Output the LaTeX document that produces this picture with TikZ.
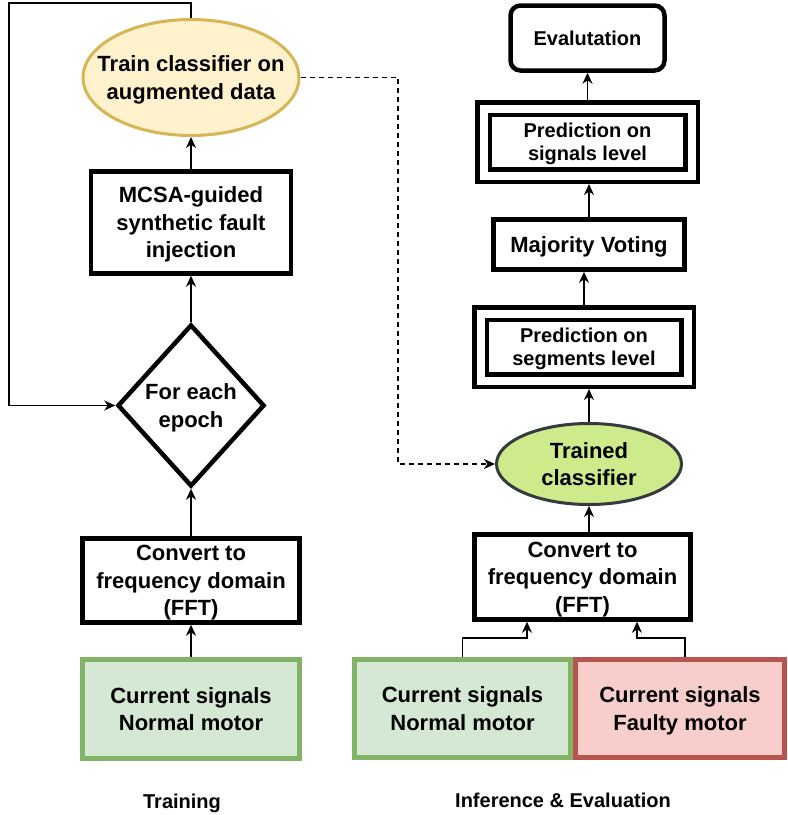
\documentclass[tikz,border=0pt]{standalone}
\usepackage{fontspec}
\setmainfont{Liberation Sans}
\usetikzlibrary{shapes.geometric,arrows.meta}

% colours of the filled shapes
\definecolor{yellowfill}{HTML}{FFF2CC}
\definecolor{yellowline}{HTML}{D6B656}
\definecolor{greenfill}{HTML}{D5E8D4}
\definecolor{greenline}{HTML}{82B366}
\definecolor{redfill}{HTML}{F8CECC}
\definecolor{redline}{HTML}{B85450}
\definecolor{limefill}{HTML}{CDEB8B}
\definecolor{limeline}{HTML}{36393D}

\begin{document}
\begin{tikzpicture}[x=1pt,y=-1pt,
    every node/.style={font=\bfseries\fontsize{22}{27.5}\selectfont,
                       align=center, inner sep=0pt, text depth=0pt},
    smalltext/.style={font=\bfseries\fontsize{20}{23}\selectfont},
    box/.style={draw, rectangle, line width=4.5pt, fill=white},
    dblbox/.style={draw, rectangle, line width=4.5pt, double, double distance=8pt,
                   outer sep=8.5pt, smalltext},
    loopbox/.style={draw, diamond, line width=4.5pt, fill=white},
    blob/.style={draw, ellipse, line width=3pt},
    signal/.style={draw, rectangle, line width=4.5pt},
    arrow/.style={-{Stealth[length=11pt,width=10pt,inset=3.5pt]}, line width=1.5pt}]

  \useasboundingbox (0,0) rectangle (788,815);

  % --------------------------
  % training column (left)
  % --------------------------
  % the text is set apart so that it may run close to the ellipse
  \node[blob, fill=yellowfill, draw=yellowline, minimum width=216, minimum height=116]
    (trainE) at (191,77.5) {};
  \node (trainTxt) at (trainE) {Train classifier on\\augmented data};
  \node[box, minimum width=200, minimum height=102]
    (mcsa) at (191,222.5) {MCSA-guided\\synthetic fault\\injection};
  \node[loopbox, minimum width=147, minimum height=162]
    (epoch) at (191,405.5) {For each\\epoch};
  \node[box, minimum width=217, minimum height=84]
    (fftL) at (191,580.5) {Convert to\\frequency domain\\(FFT)};
  \node[signal, fill=greenfill, draw=greenline, minimum width=217, minimum height=99]
    (normL) at (191,709) {Current signals\\Normal motor};
  \node[smalltext] (trainLbl) at (182,801) {Training};

  \draw[arrow] (normL) -- (fftL);
  \draw[arrow] (fftL) -- (epoch);
  \draw[arrow] (epoch) -- (mcsa);
  \draw[arrow] (mcsa) -- (trainE);

  % the epoch loop back to the diamond
  \coordinate (loopTL) at (9,3);
  \draw[arrow] (trainE.north) |- (loopTL) |- (epoch.west);

  % --------------------------
  % inference column (right)
  % --------------------------
  \node[box, smalltext, rounded corners=10pt, minimum width=154, minimum height=65]
    (evalR) at (587.5,38) {Evalutation};
  \node[dblbox, minimum width=208, minimum height=67]
    (predSig) at (587.5,142) {Prediction on\\signals level};
  \node[box, minimum width=191, minimum height=50]
    (vote) at (589,244.5) {Majority Voting};
  \node[dblbox, minimum width=207, minimum height=67]
    (predSeg) at (584,347) {Prediction on\\segments level};
  \node[blob, fill=limefill, draw=limeline, minimum width=185, minimum height=81]
    (trained) at (589,464) {Trained\\classifier};
  \node[box, minimum width=216, minimum height=85]
    (fftR) at (582.5,577) {Convert to\\frequency domain\\(FFT)};
  \node[signal, fill=greenfill, draw=greenline, minimum width=216, minimum height=98]
    (normR) at (462.5,708.5) {Current signals\\Normal motor};
  \node[signal, fill=redfill, draw=redline, minimum width=209, minimum height=98]
    (faultR) at (680,708.5) {Current signals\\Faulty motor};
  \node[smalltext] (inferLbl) at (563,800) {Inference \& Evaluation};

  % both signal sets feed the FFT block
  \coordinate (inN) at (527,638);
  \coordinate (inF) at (637,638);
  \draw[arrow] (normR.north) |- (inN) -- (inN |- fftR.south);
  \draw[arrow] ([xshift=5pt]faultR.north) |- (inF) -- (inF |- fftR.south);

  \draw[arrow] (trained.south |- fftR.north) -- (trained.south);
  \draw[arrow] (trained.north) -- (trained.north |- predSeg.south);
  \draw[arrow] (predSeg.north) -- (predSeg.north |- vote.south);
  \draw[arrow] (vote.north) -- (vote.north |- predSig.south);
  \draw[arrow] (predSig.north) -- (predSig.north |- evalR.south);

  % the trained model is handed over
  \coordinate (handover) at (398,464);
  \draw[arrow, dash pattern=on 5pt off 4pt] (trainE.east) -| (handover) -- (trained.west);
\end{tikzpicture}
\end{document}
